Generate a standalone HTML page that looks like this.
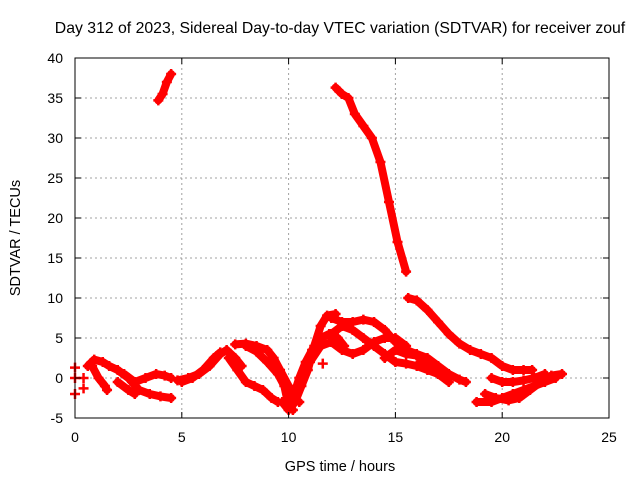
<!DOCTYPE html>
<html><head><meta charset="utf-8">
<style>
html,body{margin:0;padding:0;background:#fff;}
svg{display:block;font-family:"Liberation Sans",sans-serif;}
</style></head>
<body>
<svg id="chart" width="640" height="480" viewBox="0 0 640 480" xmlns="http://www.w3.org/2000/svg">
<rect width="640" height="480" fill="#fff"/>
<text x="340" y="33" font-size="15.8" text-anchor="middle">Day 312 of 2023, Sidereal Day-to-day VTEC variation (SDTVAR) for receiver zouf</text>
<text x="340" y="471" font-size="14.5" text-anchor="middle">GPS time / hours</text>
<text transform="translate(20,238) rotate(-90)" font-size="14.5" text-anchor="middle">SDTVAR / TECUs</text>
<g id="grid"></g>
<g id="marks"></g>
<rect x="75" y="58" width="534" height="360" fill="none" stroke="#000" stroke-width="1"/>
<g id="ticks"></g>
</svg>
<script>
const xTicks=[0,5,10,15,20,25];
const yTicks=[-5,0,5,10,15,20,25,30,35,40];
const trackA=[[3.9,34.7],[4.1,35.5],[4.3,37],[4.5,38]];
const trackB=[[12.2,36.3],[12.5,35.5],[12.8,35],[13.1,33],[13.5,31.5],[13.9,30],[14.3,27],[14.7,22],[15.1,17],[15.5,13.3]];
const trackC=[[15.6,10],[16,9.7],[16.5,8.5],[17,7],[17.5,5.5],[18,4.3],[18.5,3.5],[19,3],[19.5,2.5],[20,1.5],[20.5,1],[21,1],[21.4,1]];
const trackD1=[[0.6,1.5],[0.9,2.3],[1.3,2],[1.6,1.5],[2,1]];
const trackD2=[[0.8,1.5],[1.1,0],[1.4,-1],[1.5,-1.5]];
const trackE1=[[2,1],[2.5,0],[3,-1.5],[3.5,-2],[4,-2.3],[4.5,-2.5]];
const trackE2=[[2.3,0.5],[2.8,-0.5],[3.3,0],[3.8,0.5],[4.2,0.3],[4.5,0]];
const trackE3=[[2,-0.5],[2.5,-1.5],[2.8,-2]];
const trackF1=[[4.8,-0.3],[5.3,0],[5.8,0.5],[6.3,1.5],[6.8,3],[7.1,3.5],[7.5,2.5],[7.8,1.5]];
const trackF2=[[5,-0.5],[5.5,0],[6,1],[6.5,2.5],[6.8,3.2]];
const trackG1=[[7.2,2.5],[7.6,1],[8,-0.5],[8.4,-1],[8.8,-1.5],[9.2,-2.5],[9.5,-3]];
const trackG2=[[7.5,4.2],[8,4.3],[8.5,4],[9,3.5],[9.3,2.5],[9.6,1],[10,-1],[10.2,-2.5],[10.5,-3]];
const trackG3=[[8,4],[8.5,3.3],[9,2],[9.5,0.5],[9.8,-1],[10,-3.5],[10.2,-4]];
const trackH1=[[9.7,-3],[10,-4],[10.3,-3],[10.6,-1],[10.9,1],[11.2,4],[11.5,6.5],[11.8,7.8],[12.2,8]];
const trackH2=[[10.2,-2.5],[10.5,0],[10.8,2],[11.1,3.5],[11.5,5],[11.9,5.5],[12.3,5],[12.6,4]];
const trackI=[[11,2],[11.5,4],[12,4.5],[12.5,3.5],[13,3],[13.5,3.5],[14,4.5],[14.5,5],[15,5],[15.5,4]];
const trackJ1=[[12,7.5],[12.5,7],[13,7],[13.5,7.3],[14,7],[14.5,6],[15,4.5],[15.5,3.5],[16,3],[16.5,2.5],[17,1.5],[17.5,0.5],[18,-0.2],[18.3,-0.5]];
const trackJ2=[[12,5.5],[12.5,6.5],[13,6],[13.5,5],[14,4],[14.5,3],[15,2],[15.5,1.8],[16,1.5],[16.5,1],[17,0.5]];
const trackJ3=[[14.5,2.5],[15,3.5],[15.5,3],[16,2.8],[16.5,1.5],[17,0.5],[17.5,-0.5]];
const trackK1=[[18.8,-3],[19.5,-3],[20,-2.5],[20.5,-2],[21,-1.5],[21.5,-1],[22,-0.5],[22.5,0]];
const trackK2=[[19.2,-2],[19.7,-2.5],[20.3,-2.8],[20.8,-2.5],[21.3,-1.5],[21.8,-0.5],[22.3,0.3],[22.8,0.5]];
const trackK3=[[19.5,0],[20,-0.5],[20.5,-0.5],[21,-0.3],[21.5,0],[22,0.5]];
const singles=[[0,1.3],[0,0],[0,-2],[0.4,-1.3],[0.4,0],[11.6,1.8]];
const tracks=[trackA,trackB,trackC,trackD1,trackD2,trackE1,trackE2,trackE3,trackF1,trackF2,trackG1,trackG2,trackG3,trackH1,trackH2,trackI,trackJ1,trackJ2,trackJ3,trackK1,trackK2,trackK3];

const NS="http://www.w3.org/2000/svg";
function xs(v){return 75+v*534/25;}
function ys(v){return 378-v*8;}
function mk(tag,attrs,parent){const e=document.createElementNS(NS,tag);for(const k in attrs)e.setAttribute(k,attrs[k]);parent.appendChild(e);return e;}
const grid=document.getElementById('grid'),ticks=document.getElementById('ticks'),marks=document.getElementById('marks');
xTicks.forEach(t=>{
  const x=xs(t);
  if(t>0&&t<25){const g=mk('line',{x1:x,x2:x,y1:58,y2:418,stroke:'#a0a0a0','stroke-dasharray':'2,3','stroke-width':1},grid);
  
  }
  mk('line',{x1:x,x2:x,y1:418,y2:412,stroke:'#000'},ticks);
  mk('line',{x1:x,x2:x,y1:58,y2:64,stroke:'#000'},ticks);
  const l=mk('text',{x:x,y:442,'font-size':14,'text-anchor':'middle'},ticks);
  l.textContent=t;
  
  
});
yTicks.forEach(t=>{
  const y=ys(t);
  if(t>-5&&t<40){const g=mk('line',{x1:75,x2:609,y1:y,y2:y,stroke:'#a0a0a0','stroke-dasharray':'2,3','stroke-width':1},grid);
  
  }
  mk('line',{x1:75,x2:81,y1:y,y2:y,stroke:'#000'},ticks);
  mk('line',{x1:609,x2:603,y1:y,y2:y,stroke:'#000'},ticks);
  const l=mk('text',{x:63,y:y+5,'font-size':14,'text-anchor':'end'},ticks);
  l.textContent=t;
  
  
});
function plus(x,y){
  const p=mk('path',{d:`M${x-5},${y}h10M${x},${y-5}v10`,stroke:'#f00','stroke-width':2.5,fill:'none'},marks);
  
  
}
tracks.forEach(tr=>{
  const pl=mk('polyline',{points:tr.map(p=>xs(p[0])+','+ys(p[1])).join(' '),stroke:'#f00','stroke-width':8,fill:'none','stroke-linejoin':'round','stroke-linecap':'round'},marks);
  
  
  tr.forEach(p=>plus(xs(p[0]),ys(p[1])));
});
singles.forEach(p=>plus(xs(p[0]),ys(p[1])));
</script>
</body></html>
